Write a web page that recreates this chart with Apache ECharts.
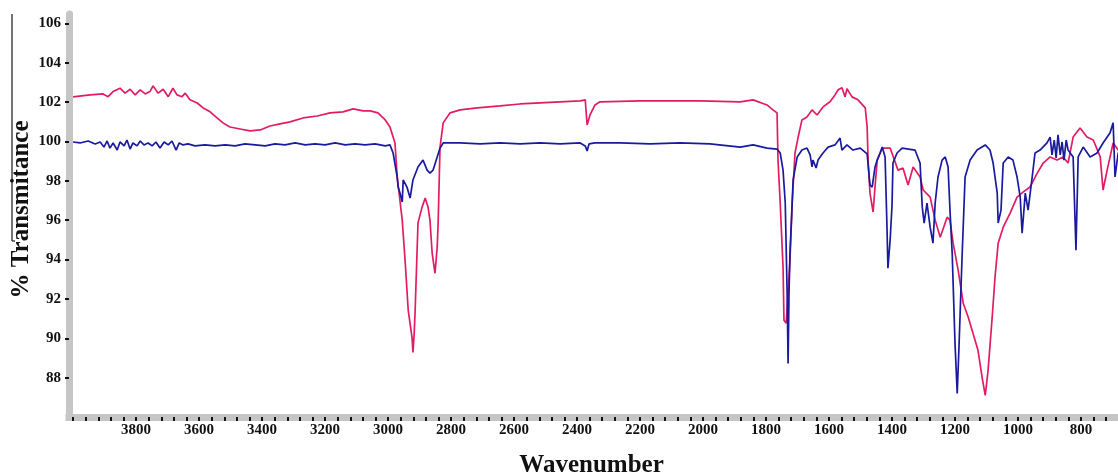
<!DOCTYPE html>
<html>
<head>
<meta charset="utf-8">
<script src="https://cdn.jsdelivr.net/npm/echarts@6/dist/echarts.min.js"></script>
<style>
  html, body { margin: 0; padding: 0; background: #fff; }
  #spectrum { width: 1118px; height: 472px; }
</style>
</head>
<body>
<div id="spectrum"></div>
<script>
// tick labels
var waveTicks = [3800, 3600, 3400, 3200, 3000, 2800, 2600, 2400, 2200, 2000, 1800, 1600, 1400, 1200, 1000, 800];
var transTicks = [88, 90, 92, 94, 96, 98, 100, 102, 104, 106];

// pink spectrum (wavenumber / %T)
var pinkWave = [4000,3994,3946,3905,3889,3873,3851,3835,3819,3803,
  3787,3771,3756,3746,3730,3714,3698,3683,3670,3654,
  3644,3629,3606,3587,3565,3543,3524,3502,3470,3438,
  3406,3375,3343,3311,3270,3225,3184,3143,3111,3079,
  3057,3032,3009,2994,2978,2971,2955,2946,2936,2924,
  2921,2917,2914,2905,2892,2882,2873,2867,2860,2851,
  2844,2841,2835,2825,2803,2771,2717,2644,2581,2454,
  2390,2374,2368,2359,2343,2327,2200,2009,1882,1841,
  1797,1778,1765,1762,1755,1746,1743,1736,1730,1724,
  1717,1708,1698,1686,1670,1654,1638,1619,1597,1581,
  1571,1559,1549,1543,1527,1508,1485,1479,1476,1470,
  1460,1454,1447,1431,1406,1381,1365,1349,1333,1311,
  1301,1279,1263,1247,1225,1216,1206,1190,1174,1158,
  1143,1127,1114,1104,1095,1082,1073,1063,1047,1025,
  1003,984,962,939,920,898,876,857,841,825,
  803,781,761,739,730,717,698,682,660];
var pinkT = [102.26,102.27,102.36,102.41,102.27,102.53,102.70,102.45,102.65,102.36,
  102.62,102.41,102.53,102.82,102.45,102.65,102.27,102.70,102.36,102.27,
  102.45,102.11,101.95,101.70,101.50,101.19,100.94,100.73,100.63,100.53,
  100.58,100.78,100.89,100.99,101.19,101.29,101.45,101.50,101.65,101.55,
  101.55,101.45,101.09,100.73,99.92,98.19,96.00,93.96,91.42,90.05,
  89.28,90.25,91.42,95.85,96.66,97.12,96.66,96.00,94.32,93.30,
  94.63,95.85,99.71,100.94,101.45,101.60,101.70,101.80,101.90,102.01,
  102.06,102.11,100.83,101.34,101.85,102.01,102.06,102.06,102.01,102.11,
  101.85,101.60,101.45,99.05,96.87,93.61,90.91,90.76,92.29,93.96,
  96.87,99.41,100.22,101.09,101.24,101.60,101.34,101.75,102.01,102.36,
  102.62,102.72,102.26,102.67,102.26,102.11,101.70,100.73,99.05,97.37,
  96.41,97.68,99.05,99.66,99.66,98.54,98.64,97.78,98.70,98.19,
  97.53,97.17,96.00,95.13,96.15,96.00,94.83,93.46,91.78,91.07,
  90.25,89.39,88.01,87.10,88.37,91.07,93.10,94.83,95.64,96.36,
  97.17,97.42,97.68,98.39,98.90,99.21,99.05,99.21,98.90,100.22,
  100.68,100.22,100.07,99.21,97.53,98.54,99.92,99.56,99.8];

// blue spectrum (wavenumber / %T)
var blueWave = [4000,3978,3952,3930,3914,3902,3892,3883,3873,3860,
  3851,3838,3829,3819,3810,3797,3787,3775,3762,3749,
  3737,3724,3711,3698,3686,3673,3663,3651,3635,3613,
  3581,3549,3517,3486,3454,3422,3390,3359,3327,3295,
  3263,3232,3200,3168,3136,3105,3073,3041,3009,2994,
  2984,2971,2968,2962,2955,2952,2940,2930,2921,2905,
  2889,2876,2867,2857,2844,2835,2825,2771,2708,2644,
  2581,2517,2454,2390,2374,2368,2362,2343,2263,2168,
  2073,1978,1882,1841,1797,1765,1755,1746,1739,1733,
  1730,1727,1724,1717,1714,1701,1686,1670,1660,1654,
  1651,1641,1635,1619,1603,1581,1565,1559,1543,1524,
  1501,1479,1470,1463,1454,1447,1438,1431,1422,1416,
  1413,1406,1400,1397,1384,1368,1327,1311,1304,1298,
  1289,1279,1270,1263,1254,1241,1231,1222,1216,1209,
  1200,1193,1187,1178,1168,1152,1130,1104,1089,1079,
  1066,1063,1054,1047,1031,1016,1003,993,987,977,
  968,955,946,930,908,898,892,885,879,873,
  866,860,854,847,841,825,816,809,793,771,
  749,730,708,698,692,682,660];
var blueT = [99.97,99.92,100.02,99.87,99.97,99.71,100.02,99.66,99.92,99.56,
  99.97,99.77,100.07,99.61,99.92,99.77,100.02,99.82,99.92,99.77,
  99.97,99.66,99.97,99.82,100.02,99.56,99.92,99.82,99.87,99.77,
  99.82,99.77,99.82,99.77,99.87,99.82,99.77,99.87,99.82,99.92,
  99.82,99.87,99.82,99.92,99.82,99.87,99.82,99.87,99.77,99.82,
  99.41,98.19,97.68,97.37,96.92,98.04,97.68,97.12,98.04,98.70,
  99.05,98.54,98.39,98.54,99.21,99.66,99.92,99.92,99.87,99.92,
  99.87,99.92,99.87,99.92,99.77,99.51,99.87,99.92,99.92,99.87,
  99.92,99.87,99.71,99.82,99.66,99.61,99.41,98.54,96.87,92.29,
  88.72,92.29,94.32,96.87,98.04,99.21,99.56,99.66,99.31,98.70,
  99.05,98.65,99.05,99.41,99.71,99.82,100.17,99.56,99.82,99.56,
  99.66,99.36,97.78,97.68,98.70,99.05,99.41,99.71,99.21,95.64,
  93.56,94.98,96.76,98.90,99.41,99.66,99.56,98.90,96.66,95.85,
  96.87,95.64,94.83,96.87,98.19,99.05,99.21,98.70,96.51,94.32,
  89.74,87.20,89.74,93.96,98.19,99.05,99.56,99.82,99.56,98.90,
  97.37,95.85,96.51,98.90,99.21,99.05,98.19,97.17,95.34,97.37,
  96.51,98.19,99.41,99.56,99.92,100.22,99.31,100.07,99.16,100.33,
  99.31,99.97,99.05,100.07,99.56,99.21,94.47,99.21,99.71,99.21,
  99.41,99.92,100.43,100.94,98.19,99.41,99.6];

function pairs(xs, ys) {
  var out = [];
  for (var i = 0; i < xs.length; i++) out.push([xs[i], ys[i]]);
  return out;
}

// small ticks every 40 cm-1 along the bottom bar
var waveMinor = [];
for (var w = 4000; w >= 600; w -= 40) waveMinor.push(w);

var serif = '"Liberation Serif", "DejaVu Serif", serif';
var plain = function (v) { return String(v); };

var myChart = echarts.init(document.getElementById('spectrum'));
var option = {
  animation: false,
  grid: { left: 69, right: -26, top: 14, bottom: 55, containLabel: false, outerBoundsMode: 'none' },
  xAxis: {
    type: 'value',
    inverse: true,
    min: 600,
    max: 4013,
    name: 'Wavenumber',
    nameLocation: 'middle',
    nameGap: 36,
    nameMoveOverlap: false,
    nameTextStyle: { fontFamily: serif, fontSize: 25, fontWeight: 'bold', color: '#111', padding: [0, 30, 0, 0] },
    splitLine: { show: false },
    axisLine: { lineStyle: { color: '#c6c6c6', width: 7, cap: 'square' } },
    axisTick: { inside: false, length: 4, customValues: waveMinor, lineStyle: { color: '#111', width: 2 } },
    axisLabel: { customValues: waveTicks, formatter: plain, margin: 6, fontFamily: serif, fontSize: 15, fontWeight: 'bold', color: '#111' }
  },
  yAxis: {
    type: 'value',
    min: 86,
    max: 106.47,
    name: '% Transmitance',
    nameLocation: 'middle',
    nameGap: 35,
    nameRotate: 90,
    nameMoveOverlap: false,
    nameTextStyle: { fontFamily: serif, fontSize: 25, fontWeight: 'bold', color: '#111', padding: [0, 0, 0, 12] },
    splitLine: { show: false },
    axisLine: { show: true, lineStyle: { color: '#c6c6c6', width: 7 } },
    axisTick: { inside: false, length: 4, customValues: transTicks, lineStyle: { color: '#111', width: 2 } },
    axisLabel: { customValues: transTicks, formatter: plain, margin: 8, fontFamily: serif, fontSize: 15, fontWeight: 'bold', color: '#111' }
  },
  graphic: [
    { type: 'line', shape: { x1: 12, y1: 14, x2: 12, y2: 241 }, style: { stroke: '#444', lineWidth: 1.5 } },
    { type: 'line', shape: { x1: 12, y1: 241, x2: 15, y2: 241 }, style: { stroke: '#444', lineWidth: 1.5 } }
  ],
  series: [
    {
      name: 'pink',
      type: 'line',
      showSymbol: false,
      lineStyle: { color: '#e21c62', width: 1.7 },
      data: pairs(pinkWave, pinkT)
    },
    {
      name: 'blue',
      type: 'line',
      showSymbol: false,
      lineStyle: { color: '#1a1a9e', width: 1.7 },
      data: pairs(blueWave, blueT)
    }
  ]
};
myChart.setOption(option);
</script>
</body>
</html>
